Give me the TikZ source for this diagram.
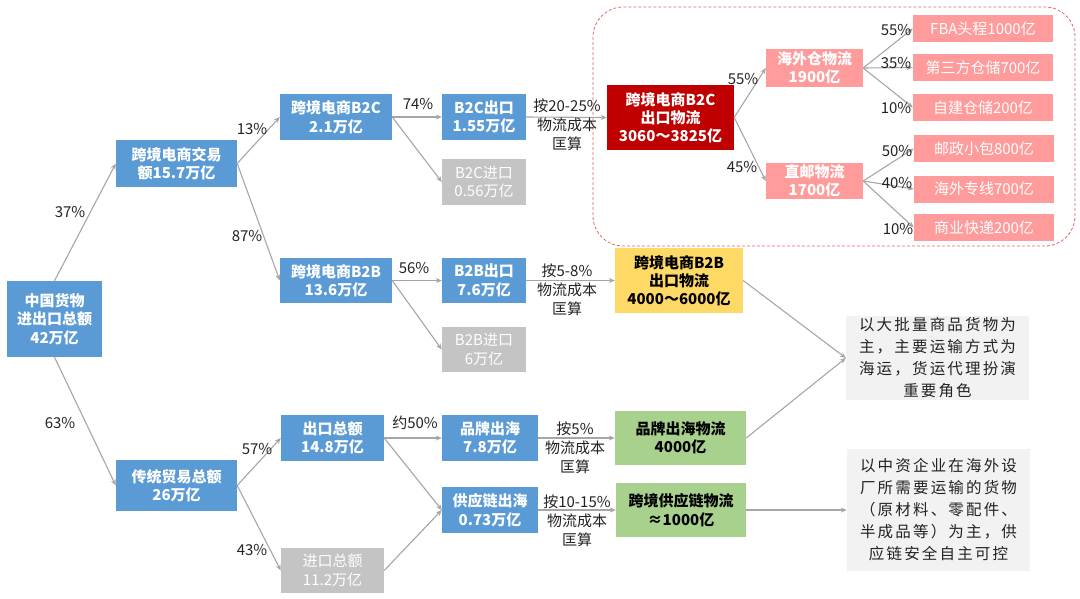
\documentclass[tikz,border=0pt]{standalone}
\usepackage{fontspec}
\setmainfont{Noto Sans CJK SC}
\usetikzlibrary{arrows.meta,calc}
\definecolor{cblue}{HTML}{5B9BD5}
\definecolor{cgrey}{HTML}{C4C4C4}
\definecolor{cred}{HTML}{C00000}
\definecolor{cpink}{HTML}{FF9B9B}
\definecolor{cyellow}{HTML}{FFD966}
\definecolor{cgreen}{HTML}{A9D18E}
\definecolor{cnote}{HTML}{F2F2F2}
\definecolor{carrow}{HTML}{A6A6A6}
\definecolor{cdash}{HTML}{E06666}
\definecolor{ctext}{HTML}{222222}
\begin{document}
\begin{tikzpicture}[x=1pt,y=-1pt,
  box/.style={inner sep=0pt, align=center, text=white, fill=cblue,
    font=\bfseries\fontsize{15}{18.5}\selectfont},
  greybox/.style={box, fill=cgrey, font=\fontsize{15}{18.5}\selectfont},
  redbox/.style={box, fill=cred, font=\bfseries\fontsize{15}{18}\selectfont},
  pinkbox/.style={box, fill=cpink, font=\bfseries\fontsize{15}{18}\selectfont},
  pinkleaf/.style={box, fill=cpink, font=\fontsize{15}{18}\selectfont,
    minimum width=140pt, minimum height=27pt},
  ybox/.style={box, fill=cyellow, text=black, font=\bfseries\fontsize{15}{18}\selectfont},
  gbox/.style={box, fill=cgreen, text=black, font=\bfseries\fontsize{15}{18.5}\selectfont},
  notebox/.style={inner sep=0pt, align=center, fill=cnote, text=ctext,
    font=\fontsize{15.5}{22}\selectfont\addfontfeatures{LetterSpace=14}},
  pct/.style={inner sep=0pt, text=ctext, align=center, font=\fontsize{15}{19}\selectfont},
  arr/.style={draw=carrow, line width=1.1pt, -{Stealth[length=6pt,width=5pt]}},
  sz/.style 2 args={minimum width=#1pt, minimum height=#2pt}
]
\useasboundingbox (0,0) rectangle (1080,598);

% dashed frame
\draw[cdash, line width=0.8pt, dash pattern=on 3pt off 2pt, rounded corners=30pt]
  (593,7) rectangle (1075,246);

% level 0/1
\node[box, sz={95}{76}] (root) at (54.5,319) {中国货物\\进出口总额\\42万亿};
\node[box, sz={121}{47}] (ecom) at (176.5,163.5) {跨境电商交易\\额15.7万亿};
\node[box, sz={121}{51}] (trad) at (176.5,485.5) {传统贸易总额\\26万亿};

% level 2
\node[box, sz={112}{46}] (b2c) at (336,117) {跨境电商B2C\\2.1万亿};
\node[box, sz={112}{45}] (b2b) at (336,280.5) {跨境电商B2B\\13.6万亿};
\node[box, sz={103}{46}] (exp) at (332.5,438) {出口总额\\14.8万亿};
\node[greybox, sz={103}{45}] (imp) at (332.5,570.5) {进口总额\\11.2万亿};

% level 3
\node[box, sz={84}{46}] (b2cex) at (484,117) {B2C出口\\1.55万亿};
\node[greybox, sz={84}{46}] (b2cim) at (484,182) {B2C进口\\0.56万亿};
\node[box, sz={84}{45}] (b2bex) at (484,280.5) {B2B出口\\7.6万亿};
\node[greybox, sz={84}{45}] (b2bim) at (484,349.5) {B2B进口\\6万亿};
\node[box, sz={96}{46}] (brand) at (490,438) {品牌出海\\7.8万亿};
\node[box, sz={96}{46}] (supply) at (490,510) {供应链出海\\0.73万亿};

% level 4
\node[redbox, sz={127}{65}] (red) at (670.5,117.5) {跨境电商B2C\\出口物流\\3060～3825亿};
\node[ybox, sz={128}{65}] (yel) at (679,280.5) {跨境电商B2B\\出口物流\\4000～6000亿};
\node[gbox, sz={131}{54}] (g1) at (680.5,438) {品牌出海物流\\4000亿};
\node[gbox, sz={130}{54}] (g2) at (681,510) {跨境供应链物流\\≈1000亿};

% level 5
\node[pinkbox, sz={97}{38}] (ovs) at (814.5,68) {海外仓物流\\1900亿};
\node[pinkbox, sz={97}{36}] (dir) at (814.5,181) {直邮物流\\1700亿};

\node[pinkleaf] (fba) at (983,28.5) {FBA头程1000亿};
\node[pinkleaf] (thd) at (983,67.5) {第三方仓储700亿};
\node[pinkleaf] (slf) at (983,107.5) {自建仓储200亿};
\node[pinkleaf] (pst) at (984,148.5) {邮政小包800亿};
\node[pinkleaf] (lin) at (984,189) {海外专线700亿};
\node[pinkleaf] (cmx) at (984,227.5) {商业快递200亿};

% notes
\node[notebox, sz={183}{84}] (n1) at (937.5,358)
  {以大批量商品货物为\\主，主要运输方式为\\海运，货运代理扮演\\重要角色};
\node[notebox, sz={183}{122}] (n2) at (938.5,510)
  {以中资企业在海外设\\厂所需要运输的货物\\（原材料、零配件、\\半成品等）为主，供\\应链安全自主可控};

% connectors
\draw[arr] (root.north) -- (ecom.west);
\draw[arr] (root.south) -- (trad.west);
\draw[arr] (ecom.east) -- (b2c.west);
\draw[arr] (ecom.east) -- (b2b.west);
\draw[arr] (trad.east) -- (exp.west);
\draw[arr] (trad.east) -- (imp.west);
\draw[arr] (b2c.east) -- (b2cex.west);
\draw[arr] (b2c.east) -- (b2cim.west);
\draw[arr] (b2b.east) -- (b2bex.west);
\draw[arr] (b2b.east) -- (b2bim.west);
\draw[arr] (exp.east) -- (brand.west);
\draw[arr] (exp.east) -- (supply.west);
\draw[arr] (imp.east) -- (supply.west);
\draw[arr] (b2cex.east) -- (red.west);
\draw[arr] (b2bex.east) -- (yel.west);
\draw[arr] (brand.east) -- (g1.west);
\draw[arr] (supply.east) -- (g2.west);
\draw[arr] (red.east) -- (ovs.west);
\draw[arr] (red.east) -- (dir.west);
\draw[arr] (ovs.east) -- (fba.west);
\draw[arr] (ovs.east) -- (thd.west);
\draw[arr] (ovs.east) -- (slf.west);
\draw[arr] (dir.east) -- (pst.west);
\draw[arr] (dir.east) -- (lin.west);
\draw[arr] (dir.east) -- (cmx.west);
\draw[arr] (yel.east) -- (n1.west);
\draw[arr] (g1.east) -- (n1.west);
\draw[arr] (g2.east) -- (n2.west);

% percentage labels
\node[pct] (p37) at (70,212) {37\%};
\node[pct] (p63) at (60,423) {63\%};
\node[pct] (p13) at (252,129) {13\%};
\node[pct] (p87) at (247,236) {87\%};
\node[pct] (p57) at (257,449) {57\%};
\node[pct] (p43) at (252,550) {43\%};
\node[pct] (p74) at (418,104) {74\%};
\node[pct] (p56) at (414,268) {56\%};
\node[pct] (p50) at (415,423) {约50\%};
\node[pct] (l1) at (567,125) {按20-25\%\\物流成本\\匡算};
\node[pct] (l2) at (567,290) {按5-8\%\\物流成本\\匡算};
\node[pct] (l3) at (575,448) {按5\%\\物流成本\\匡算};
\node[pct] (l4) at (577,521) {按10-15\%\\物流成本\\匡算};
\node[pct] (q55) at (743,79) {55\%};
\node[pct] (q45) at (742,167) {45\%};
\node[pct] (r55) at (896,30) {55\%};
\node[pct] (r35) at (896,63) {35\%};
\node[pct] (r10a) at (896,108) {10\%};
\node[pct] (r50) at (897,151) {50\%};
\node[pct] (r40) at (897,183) {40\%};
\node[pct] (r10b) at (898,229) {10\%};
\end{tikzpicture}
\end{document}
